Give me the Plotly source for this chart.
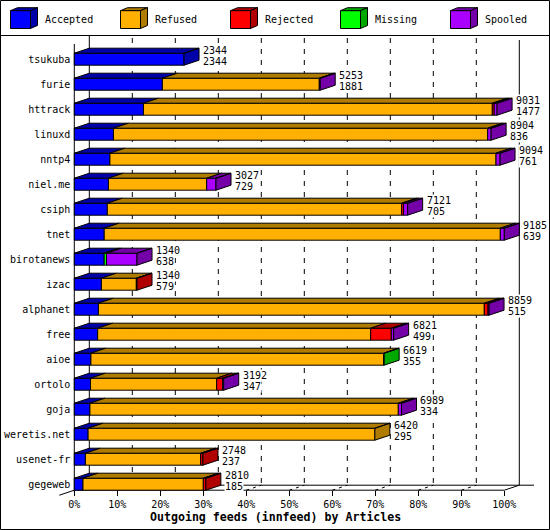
import plotly.graph_objects as go

# ---------------- data ----------------
hosts = ["tsukuba", "furie", "httrack", "linuxd", "nntp4", "niel.me", "csiph", "tnet",
         "birotanews", "izac", "alphanet", "free", "aioe", "ortolo", "goja",
         "weretis.net", "usenet-fr", "gegeweb"]
totals = [2344, 5253, 9031, 8904, 9094, 3027, 7121, 9185, 1340, 1340, 8859, 6821,
          6619, 3192, 6989, 6420, 2748, 2810]
accepted = [2344, 1881, 1477, 836, 761, 729, 705, 639, 638, 579, 515, 499, 355, 347,
            334, 295, 237, 185]
refused = [0, 3352, 7452, 7994, 8247, 2099, 6288, 8461, 0, 746, 8243, 5832, 6254,
           2695, 6587, 6125, 2463, 2571]
rejected = [0, 0, 40, 0, 0, 0, 40, 0, 0, 15, 80, 440, 0, 128, 0, 0, 48, 54]
missing = [0, 0, 0, 0, 0, 0, 0, 0, 50, 0, 0, 0, 10, 0, 0, 0, 0, 0]
spooled = [0, 20, 62, 74, 86, 199, 88, 85, 652, 0, 21, 50, 0, 22, 68, 0, 0, 0]

series_names = ["Accepted", "Refused", "Rejected", "Missing", "Spooled"]
series_values = [accepted, refused, rejected, missing, spooled]
front_colors = ["#0000FF", "#FFB000", "#FF0000", "#00FF00", "#AA00FF"]
dark_colors = ["#0000A8", "#B07C00", "#B00000", "#00A800", "#7400A8"]
x_ticks = [0, 10, 20, 30, 40, 50, 60, 70, 80, 90, 100]
x_tick_labels = ["0%", "10%", "20%", "30%", "40%", "50%", "60%", "70%", "80%", "90%", "100%"]
x_title = "Outgoing feeds (innfeed) by Articles"

# ---------------- geometry ----------------
W, H = 550, 530
X0, PXPCT = 74.3, 4.30      # pixel of 0 %, pixels per percent (front plane)
Y0, PXROW = 59.2, 25.0      # pixel of first row centre, pixels per row
DEPTH_X = 15 / PXPCT        # 3-D depth in data units
DEPTH_Y = 5 / PXROW
BAR_W = 12 / PXROW
FONT = "DejaVu Sans Mono"
scale_max = max(totals)


def xd(px):
    return (px - X0) / PXPCT


def yd(py):
    return (py - Y0) / PXROW


def pct(v):
    return v * 100.0 / scale_max


n = len(hosts)
rows = list(range(n))

fig = go.Figure()

# front faces
cum = [0.0] * n
bases = []
for s, vals in enumerate(series_values):
    b = list(cum)
    xs = []
    for i in rows:
        if vals[i] > 0:
            xs.append(pct(vals[i]))
            cum[i] += pct(vals[i])
        else:
            xs.append(None)
    bases.append(b)
    fig.add_trace(go.Bar(orientation="h", y=rows, x=xs, base=b, width=BAR_W,
                         marker=dict(color=front_colors[s], line=dict(color="black", width=1)),
                         name=series_names[s], hoverinfo="skip"))

# top faces and side faces
last_series = []
for i in rows:
    ls = None
    for s, vals in enumerate(series_values):
        if vals[i] > 0:
            ls = s
    last_series.append(ls)

for s, vals in enumerate(series_values):
    px, py = [], []
    for i in rows:
        if vals[i] <= 0:
            continue
        x0 = bases[s][i]
        x1 = x0 + pct(vals[i])
        yt = i - BAR_W / 2
        px += [x0, x1, x1 + DEPTH_X, x0 + DEPTH_X, x0, None]
        py += [yt, yt, yt - DEPTH_Y, yt - DEPTH_Y, yt, None]
        if last_series[i] == s:
            yb = i + BAR_W / 2
            px += [x1, x1, x1 + DEPTH_X, x1 + DEPTH_X, x1, None]
            py += [yt, yb, yb - DEPTH_Y, yt - DEPTH_Y, yt, None]
    if px:
        fig.add_trace(go.Scatter(x=px, y=py, mode="lines", fill="toself",
                                 fillcolor=dark_colors[s],
                                 line=dict(color="black", width=1),
                                 hoverinfo="skip", showlegend=False))

# ---------------- frame / grid ----------------
shapes = []
floor_front = n - 1 + BAR_W / 2
floor_back = floor_front - DEPTH_Y
line_k = dict(color="black", width=1)
for t in x_ticks[1:-1]:
    shapes.append(dict(type="line", xref="x", yref="y", x0=t + DEPTH_X, x1=t + DEPTH_X,
                       y0=yd(38), y1=floor_back, layer="below",
                       line=dict(color="black", width=1, dash="5px,6px")))
    shapes.append(dict(type="line", xref="x", yref="y", x0=t, x1=t + DEPTH_X,
                       y0=floor_front, y1=floor_back, layer="below",
                       line=dict(color="black", width=1, dash="3px,4px")))
# back wall left and right
shapes.append(dict(type="line", xref="x", yref="y", x0=DEPTH_X, x1=DEPTH_X,
                   y0=yd(35.5), y1=floor_back, layer="below", line=line_k))
shapes.append(dict(type="line", xref="x", yref="y", x0=100 + DEPTH_X, x1=100 + DEPTH_X,
                   y0=yd(40), y1=floor_back, layer="below", line=line_k))
# back floor line
shapes.append(dict(type="line", xref="x", yref="y", x0=DEPTH_X, x1=xd(534),
                   y0=floor_back, y1=floor_back, layer="below", line=line_k))
# front floor line and corner diagonals
shapes.append(dict(type="line", xref="x", yref="y", x0=0, x1=100,
                   y0=floor_front, y1=floor_front, layer="below", line=line_k))
shapes.append(dict(type="line", xref="x", yref="y", x0=100, x1=100 + DEPTH_X,
                   y0=floor_front, y1=floor_back, layer="below", line=line_k))
shapes.append(dict(type="line", xref="x", yref="y", x0=0, x1=-DEPTH_X,
                   y0=floor_front, y1=floor_front + DEPTH_Y, layer="below", line=line_k))
# front left axis
shapes.append(dict(type="line", xref="x", yref="y", x0=0, x1=0,
                   y0=yd(44), y1=floor_front + 0.08, layer="below", line=line_k))
# outer border and legend separator
shapes.append(dict(type="rect", xref="paper", yref="paper", x0=0.5 / W, x1=(W - 0.5) / W,
                   y0=0.5 / H, y1=1 - 0.5 / H, line=line_k, layer="above"))
shapes.append(dict(type="line", xref="paper", yref="paper", x0=0, x1=1,
                   y0=1 - 35.5 / H, y1=1 - 35.5 / H, line=line_k, layer="above"))

# ---------------- legend (3-D cubes) ----------------
annotations = []
for s, name in enumerate(series_names):
    lx = 10.5 + 110 * s
    fx0, fx1, fy0, fy1 = lx, lx + 20, 10.7, 28.5
    ddx, ddy = 7, 3

    def P(X, Y):
        return f"{X / W:.5f},{1 - Y / H:.5f}"
    shapes.append(dict(type="path", xref="paper", yref="paper", layer="above",
                       path=f"M{P(fx0, fy0)} L{P(fx1, fy0)} L{P(fx1 + ddx, fy0 - ddy)} L{P(fx0 + ddx, fy0 - ddy)} Z",
                       fillcolor=dark_colors[s], line=line_k))
    shapes.append(dict(type="path", xref="paper", yref="paper", layer="above",
                       path=f"M{P(fx1, fy0)} L{P(fx1, fy1)} L{P(fx1 + ddx, fy1 - ddy)} L{P(fx1 + ddx, fy0 - ddy)} Z",
                       fillcolor=dark_colors[s], line=line_k))
    shapes.append(dict(type="rect", xref="paper", yref="paper", layer="above",
                       x0=fx0 / W, x1=fx1 / W, y0=1 - fy1 / H, y1=1 - fy0 / H,
                       fillcolor=front_colors[s], line=line_k))
    annotations.append(dict(xref="paper", yref="paper", x=(lx + 32) / W, y=1 - 20 / H,
                            xanchor="left", yanchor="middle", text=name, showarrow=False,
                            font=dict(family=FONT, size=10, color="black")))

# ---------------- value labels ----------------
for i in rows:
    xe = pct(totals[i]) + DEPTH_X
    annotations.append(dict(xref="x", yref="y", x=xe, y=i, xshift=3, yshift=-2,
                            xanchor="left", yanchor="middle", text=str(accepted[i]),
                            showarrow=False, bgcolor="white", borderpad=0, height=11,
                            font=dict(family=FONT, size=10, color="black")))
    annotations.append(dict(xref="x", yref="y", x=xe, y=i, xshift=3, yshift=9,
                            xanchor="left", yanchor="middle", text=str(totals[i]),
                            showarrow=False, bgcolor="white", borderpad=0, height=11,
                            font=dict(family=FONT, size=10, color="black")))

annotations.append(dict(xref="paper", yref="paper", x=0.5, y=1 - 517 / H,
                        xanchor="center", yanchor="middle", text=f"<b>{x_title}</b>",
                        showarrow=False, font=dict(family=FONT, size=11.6, color="black")))

fig.update_layout(
    width=W, height=H, autosize=False,
    margin=dict(l=0, r=0, t=0, b=0, pad=0),
    plot_bgcolor="white", paper_bgcolor="white",
    showlegend=False, barmode="overlay",
    shapes=shapes, annotations=annotations,
    xaxis=dict(range=[xd(0), xd(W)], tickmode="array", tickvals=x_ticks,
               ticktext=x_tick_labels, ticks="outside", ticklen=5, tickwidth=1,
               tickcolor="black", showgrid=False, zeroline=False, showline=False,
               anchor="free", position=1 - 490.2 / H, automargin=False,
               tickfont=dict(family=FONT, size=10, color="black"), fixedrange=True),
    yaxis=dict(range=[yd(H), yd(0)], tickmode="array", tickvals=rows, ticktext=hosts,
               ticks="", showgrid=False, zeroline=False, showline=False,
               anchor="free", position=X0 / W, automargin=False, ticklabelstandoff=4,
               tickfont=dict(family=FONT, size=10, color="black"), fixedrange=True),
)

fig.write_html("out.html", config={"displayModeBar": False},
               post_script="document.body.style.margin='0';document.body.style.overflow='hidden';")
